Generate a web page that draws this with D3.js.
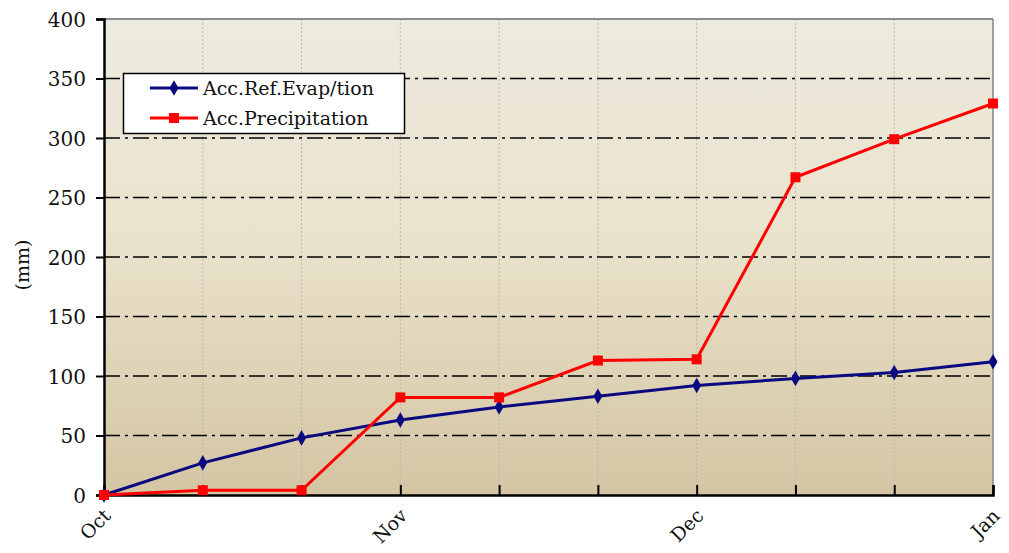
<!DOCTYPE html>
<html><head><meta charset="utf-8">
<script src="https://cdn.jsdelivr.net/npm/d3@7"></script>
<style>body{margin:0;background:#fff}svg{display:block}</style>
</head><body><svg id="c" width="1009" height="553"></svg>
<script>
const points = [0,1,2,3,4,5,6,7,8,9];
const monthLabels = ["Oct","Nov","Dec","Jan"];
const monthPositions = [0,3,6,9];
const evap = [0,27,48,63,74,83,92,98,103,112];
const precip = [0,4,4,82,82,113,114,267,299,329];
const yTicks = [0,50,100,150,200,250,300,350,400];
const seriesNames = ["Acc.Ref.Evap/tion","Acc.Precipitation"];

const FONT = "'DejaVu Serif', serif";
const svg = d3.select("#c");
const L=104,R=993,T=19,B=495;
const x = d3.scaleLinear().domain([0,9]).range([L,R]);
const y = d3.scaleLinear().domain([0,400]).range([B,T]);

const defs = svg.append("defs");
const g = defs.append("linearGradient").attr("id","bg").attr("x1",0).attr("y1",0).attr("x2",0).attr("y2",1);
g.append("stop").attr("offset","0%").attr("stop-color","#EDEADF");
g.append("stop").attr("offset","45%").attr("stop-color","#EAE3CC");
g.append("stop").attr("offset","100%").attr("stop-color","#D4C5A3");
svg.append("rect").attr("x",L).attr("y",T).attr("width",R-L).attr("height",B-T).attr("fill","url(#bg)");

svg.append("g").selectAll("line").data(points.slice(1)).join("line")
  .attr("x1",d=>x(d)).attr("x2",d=>x(d)).attr("y1",T).attr("y2",B)
  .attr("stroke","#bdb8ad").attr("stroke-width",1).attr("stroke-dasharray","2,2");
svg.append("g").selectAll("line").data(yTicks.filter(d=>d>0&&d<400)).join("line")
  .attr("x1",L).attr("x2",R).attr("y1",d=>y(d)).attr("y2",d=>y(d))
  .attr("stroke","#000").attr("stroke-width",1.6).attr("stroke-dasharray","16,5,3,5");
svg.append("line").attr("x1",L).attr("x2",R).attr("y1",T).attr("y2",T).attr("stroke","#8a8a8a").attr("stroke-width",2);
svg.append("line").attr("x1",R).attr("x2",R).attr("y1",T).attr("y2",B).attr("stroke","#8a8a8a").attr("stroke-width",1.5);

const ya = svg.append("g").attr("transform",`translate(${L},0)`).call(d3.axisLeft(y).tickValues(yTicks).tickSize(8).tickPadding(10));
ya.attr("font-family",FONT);
ya.select(".domain").attr("stroke","#000").attr("stroke-width",2.5);
ya.selectAll(".tick line").attr("stroke","#000").attr("stroke-width",2);
ya.selectAll(".tick text").attr("font-family",FONT).attr("font-size",20).attr("fill","#111").attr("dy","0.35em");

const xa = svg.append("g").attr("transform",`translate(0,${B})`).call(d3.axisBottom(x).tickValues(points).tickSize(-10).tickFormat(""));
xa.select(".domain").attr("stroke","#000").attr("stroke-width",2.5);
xa.selectAll(".tick line").attr("stroke","#000").attr("stroke-width",2);
svg.append("g").selectAll("text").data(monthPositions).join("text")
  .attr("transform",(d)=>`translate(${x(d)+8},${B+22}) rotate(-45)`)
  .attr("text-anchor","end").attr("font-family",FONT).attr("font-size",19).attr("fill","#111")
  .text((d,i)=>monthLabels[i]);

svg.append("text").attr("transform","translate(29,265) rotate(-90)").attr("text-anchor","middle")
  .attr("font-family",FONT).attr("font-size",19).attr("fill","#111").text("(mm)");

const line = d3.line().x((d,i)=>x(points[i])).y(d=>y(d));
svg.append("path").datum(evap).attr("d",line).attr("fill","none").attr("stroke","#0A0A80").attr("stroke-width",3);
svg.append("path").datum(precip).attr("d",line).attr("fill","none").attr("stroke","#FF0000").attr("stroke-width",3);
svg.append("g").selectAll("path").data(evap).join("path")
  .attr("d",d3.symbol(d3.symbolDiamond,70)).attr("transform",(d,i)=>`translate(${x(points[i])},${y(d)})`).attr("fill","#0A0A80");
svg.append("g").selectAll("rect").data(precip).join("rect")
  .attr("x",(d,i)=>x(points[i])-5).attr("y",d=>y(d)-5).attr("width",10).attr("height",10).attr("fill","#FF0000");

const lg = svg.append("g");
lg.append("rect").attr("x",123.5).attr("y",73.5).attr("width",281).attr("height",60).attr("fill","#fff").attr("stroke","#000").attr("stroke-width",1.5);
const colors=["#0A0A80","#FF0000"];
seriesNames.forEach((n,i)=>{
  const yy = 88+i*30;
  lg.append("line").attr("x1",150).attr("x2",198).attr("y1",yy).attr("y2",yy).attr("stroke",colors[i]).attr("stroke-width",3);
  if(i===0) lg.append("path").attr("d",d3.symbol(d3.symbolDiamond,70)()).attr("transform",`translate(174,${yy})`).attr("fill",colors[i]);
  else lg.append("rect").attr("x",169).attr("y",yy-5).attr("width",10).attr("height",10).attr("fill",colors[i]);
  lg.append("text").attr("x",203).attr("y",yy).attr("dy","0.35em").attr("font-family",FONT).attr("font-size",19).attr("fill","#111").text(n);
});
</script></body></html>
